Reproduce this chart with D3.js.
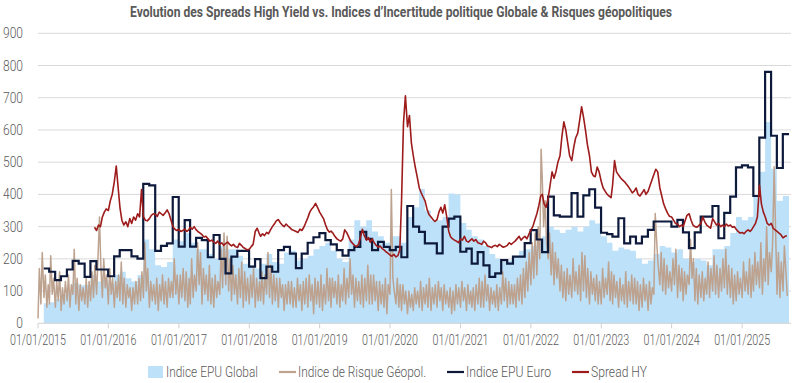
<!DOCTYPE html>
<html><head><meta charset="utf-8">
<script src="https://cdn.jsdelivr.net/npm/d3@7"></script>
<style>body{margin:0;background:#fff}svg{display:block}</style>
</head><body>
<svg id="c" width="800" height="383"></svg>
<script>
const titleText = "Evolution des Spreads High Yield vs. Indices d’Incertitude politique Globale & Risques géopolitiques";
const yTicks = [0,100,200,300,400,500,600,700,800,900];
const xTickYears = [2015,2016,2017,2018,2019,2020,2021,2022,2023,2024,2025];
const seriesNames = ["Indice EPU Global","Indice de Risque Géopol.","Indice EPU Euro","Spread HY"];

// Monthly, Jan 2015 .. Jul 2025
const epuGlobal = [
 62,65,75,88,95,125,118,120,150,130,135,125,
 150,160,140,130,150,260,230,180,175,190,260,255,
 280,250,230,230,215,200,240,230,230,210,185,180,
 170,185,215,190,185,220,225,195,200,210,230,240,
 250,225,200,190,260,320,300,320,285,270,250,270,
 270,250,330,360,417,350,320,320,330,403,400,311,
 290,270,260,240,215,200,190,195,210,225,230,240,
 260,270,300,290,280,290,300,285,300,320,310,270,
 250,225,235,230,225,200,185,195,215,240,235,220,
 230,200,190,200,195,180,230,230,240,280,330,320,
 330,395,470,625,480,380,395];
const epuEuro = [
 170,160,134,146,167,194,185,144,193,167,167,146,
 208,227,227,208,201,433,428,225,240,248,392,238,
 320,238,265,258,205,274,200,155,207,225,225,176,
 199,140,176,160,227,237,216,171,216,250,267,280,
 258,245,227,210,227,237,284,262,227,253,237,227,
 237,205,364,300,284,248,248,217,300,325,331,222,
 232,185,221,180,144,155,196,185,207,207,249,289,
 260,221,393,335,331,331,404,331,397,416,359,281,
 277,269,326,248,269,248,269,290,316,316,316,300,
 321,282,233,282,331,331,364,264,343,393,484,490,
 484,395,576,780,582,482,587];
// 4 readings per month (1st, 8th, 16th, 23rd), Jan 2015 .. Aug 2025
const gprDays = [1,8,16,23];
const gpr = [
 15,170,60,220, 80,150,50,120, 60,210,90,140, 50,130,70,160, 40,110,60,130, 70,150,50,120,
 90,230,60,140, 40,120,70,110, 60,140,50,130, 70,160,80,180, 90,200,330,180, 80,200,110,150,
 60,170,90,140, 50,130,80,150, 70,190,60,140, 50,120,80,110, 40,110,60,130, 60,140,70,160,
 80,250,100,170, 50,130,70,120, 60,140,40,120, 70,150,60,130, 50,140,80,130, 80,200,90,150,
 60,150,80,170, 70,160,50,140, 60,200,80,150, 100,250,120,220, 60,170,90,150, 70,180,60,140,
 50,150,80,130, 90,230,110,280, 120,270,100,200, 70,180,90,150, 60,170,80,190, 50,160,70,140,
 60,150,80,170, 50,140,70,130, 70,160,60,150, 90,220,80,180, 60,150,70,140, 50,140,80,120,
 40,120,60,130, 60,130,50,110, 50,140,70,120, 40,130,60,140, 50,150,70,120, 30,140,60,130,
 50,150,40,120, 60,170,70,140, 50,140,80,130, 60,150,50,120, 70,170,60,140, 80,200,90,150,
 50,140,70,130, 60,150,50,140, 70,180,60,150, 60,150,70,130, 40,130,60,120, 50,140,30,120,
 90,415,140,100, 60,140,50,120, 40,120,60,100, 30,100,50,90, 40,110,60,100, 50,130,40,110,
 60,120,50,140, 40,110,60,120, 50,130,70,110, 40,120,60,100, 50,110,30,100, 40,120,60,110,
 50,130,70,110, 40,120,60,100, 50,110,40,120, 60,140,50,130, 50,150,70,120, 40,110,60,100,
 50,120,40,110, 60,160,70,140, 50,130,60,120, 60,120,50,140, 70,150,60,170, 80,190,100,220,
 120,250,140,280, 150,300,200,540, 450,300,380,250, 200,280,150,250, 120,220,140,200, 100,180,80,160,
 70,170,90,150, 80,200,100,160, 90,180,70,220, 100,210,80,170, 60,160,90,140, 70,150,60,130,
 60,170,80,140, 90,190,70,160, 60,150,80,130, 50,140,70,120, 60,160,50,130, 70,150,60,140,
 60,130,40,120, 50,140,70,120, 40,130,60,110, 90,341,250,180, 120,220,100,200, 90,180,110,160,
 100,200,120,230, 80,180,100,170, 70,160,90,150, 120,260,140,200, 70,170,60,150, 80,160,70,140,
 90,190,80,170, 100,210,90,180, 80,170,100,200, 110,230,90,180, 80,170,60,150, 70,160,90,140,
 80,190,100,160, 90,200,80,180, 100,220,120,190, 110,250,90,200, 130,300,120,220, 160,250,486,300,
 90,220,80,190, 100,240,160,85];
// 3 readings per month (1st, 11th, 21st), from 21 Oct 2015 .. 21 Aug 2025
const hyDays = [1,11,21];
const spreadHY = [
 298, 288,305,300, 330,345,355,
 350,380,400, 440,488,420, 360,320,305, 315,300,325, 310,330,320, 340,330,415,
 330,320,318, 325,335,340, 338,332,345, 340,335,342, 352,340,320, 300,292,288,
 292,285,288, 292,285,290, 298,292,300, 290,284,280, 275,268,270, 262,255,258,
 252,248,255, 245,250,242, 248,252,245, 240,245,238, 235,248,242, 235,232,228,
 230,238,245, 285,295,280, 270,278,272, 282,278,290, 300,308,318, 322,312,305,
 300,308,302, 296,290,288, 285,282,292, 288,298,312, 328,345,355, 362,372,360,
 345,335,325, 305,290,283, 286,280,270, 262,258,255, 262,290,282, 268,255,248,
 242,238,244, 268,292,272, 258,266,252, 262,250,242, 236,240,232, 228,222,218,
 212,208,214, 206,210,228, 380,620,706, 610,645,560, 520,485,455, 420,405,392,
 380,355,338, 330,322,316, 322,345,360, 342,368,332, 285,268,262, 258,255,250,
 262,258,270, 255,252,258, 262,255,260, 250,248,245, 255,250,240, 238,235,240,
 242,238,245, 240,236,238, 242,250,245, 250,255,262, 270,258,265, 270,262,275,
 290,300,320, 340,365,395, 400,370,360, 390,430,470, 450,470,500, 520,580,625,
 600,560,520, 505,545,575, 590,630,672, 640,600,555, 520,470,458, 455,485,470,
 440,420,410, 400,395,390, 430,505,470, 460,452,445, 440,432,425, 415,405,410,
 420,400,395, 405,415,400, 410,428,445, 462,478,470, 420,395,370, 355,342,332,
 330,320,310, 308,300,305, 300,318,335, 340,320,305, 300,298,303, 310,330,315,
 305,300,295, 325,315,305, 310,300,305, 300,308,302, 305,298,300, 292,285,280,
 282,278,285, 290,285,292, 300,310,330, 428,370,345, 330,310,305, 310,295,290,
 285,280,275, 265,270,272];

const colors = {global:"#BEE1FA", gpr:"#BDA38F", euro:"#0E1A3C", hy:"#9E1B1B", grid:"#D9D9D9", text:"#595959"};
const FONT = "Roboto,'Liberation Sans',sans-serif";

const svg = d3.select("#c");
const x = d3.scaleTime().domain([new Date(2015,0,1), new Date(2025,8,1)]).range([38,789]);
const y = d3.scaleLinear().domain([0,900]).range([323.3,33.3]);

const monthly = arr => {
  const pts = arr.map((v,i)=>({d:new Date(2015,i+1,0), v}));
  pts.push({d:x.domain()[1], v:arr[arr.length-1]});
  return pts;
};
const gData = monthly(epuGlobal);
const eData = monthly(epuEuro);
const gprData = gpr.map((v,k)=>({d:new Date(2015, Math.floor(k/4), gprDays[k%4]), v}));
const hyData = spreadHY.map((v,k)=>({d:new Date(2015, 9+Math.floor((k+2)/3), hyDays[(k+2)%3]), v}));

// grid
svg.append("g").selectAll("line").data(yTicks.filter(t=>t>0)).join("line")
  .attr("x1",38).attr("x2",791).attr("y1",d=>y(d)).attr("y2",d=>y(d))
  .attr("stroke",colors.grid).attr("stroke-width",1);

// y labels
svg.append("g").selectAll("text").data(yTicks).join("text")
  .attr("x",23).attr("y",d=>y(d)).attr("dy","0.36em").attr("text-anchor","end")
  .attr("font-family",FONT).attr("font-size",14).attr("font-weight",300).attr("fill",colors.text)
  .attr("transform",d=>`translate(23,${y(d)}) scale(0.86,1) translate(-23,${-y(d)})`)
  .text(d=>d);

// area
svg.append("path").datum(gData)
  .attr("d", d3.area().curve(d3.curveStepAfter).x(d=>x(d.d)).y0(y(0)).y1(d=>y(d.v)))
  .attr("fill",colors.global);

// x axis
const xa = svg.append("g");
xa.append("line").attr("x1",38).attr("x2",791).attr("y1",y(0)).attr("y2",y(0)).attr("stroke","#D0D0D0");
const yearDates = xTickYears.map(yr=>new Date(yr,0,1));
xa.selectAll("line.t").data(yearDates).join("line").attr("class","t")
  .attr("x1",d=>x(d)).attr("x2",d=>x(d)).attr("y1",y(0)).attr("y2",y(0)+5).attr("stroke","#D0D0D0");
xa.selectAll("text").data(yearDates).join("text")
  .attr("x",d=>x(d)).attr("y",345).attr("text-anchor","middle")
  .attr("font-family",FONT).attr("font-size",14).attr("font-weight",300).attr("fill",colors.text)
  .attr("textLength",56).attr("lengthAdjust","spacingAndGlyphs")
  .text(d=>d3.timeFormat("%d/%m/%Y")(d));

const line = d3.line().x(d=>x(d.d)).y(d=>y(d.v));
svg.append("path").datum(gprData).attr("d",line).attr("fill","none")
  .attr("stroke",colors.gpr).attr("stroke-width",1.5).attr("stroke-linejoin","round");
svg.append("path").datum(eData).attr("d",d3.line().curve(d3.curveStepAfter).x(d=>x(d.d)).y(d=>y(d.v)))
  .attr("fill","none").attr("stroke",colors.euro).attr("stroke-width",2.2);
svg.append("path").datum(hyData).attr("d",line).attr("fill","none")
  .attr("stroke",colors.hy).attr("stroke-width",1.6).attr("stroke-linejoin","round");

// title
svg.append("text").attr("x",401).attr("y",17).attr("text-anchor","middle")
  .attr("font-family",FONT).attr("font-weight","bold").attr("font-size",14).attr("fill",colors.text)
  .attr("textLength",542).attr("lengthAdjust","spacingAndGlyphs")
  .text(titleText);

// legend
const lg = svg.append("g");
const legendColors = [colors.global, colors.gpr, colors.euro, colors.hy];
const legendTextLen = [92,128,85,56];
let cx = 148; const ly = 372;
seriesNames.forEach((name,i)=>{
  if(i===0){
    lg.append("rect").attr("x",cx).attr("y",ly-6).attr("width",15).attr("height",12).attr("fill",legendColors[i]);
    cx += 18;
  } else {
    lg.append("line").attr("x1",cx).attr("x2",cx+17).attr("y1",ly).attr("y2",ly)
      .attr("stroke",legendColors[i]).attr("stroke-width",2.2);
    cx += 19;
  }
  lg.append("text").attr("x",cx).attr("y",ly).attr("dy","0.36em")
    .attr("font-family",FONT).attr("font-size",14).attr("font-weight",300).attr("fill",colors.text)
    .attr("textLength",legendTextLen[i]).attr("lengthAdjust","spacingAndGlyphs").text(name);
  cx += legendTextLen[i] + 21;
});
</script>
</body></html>
